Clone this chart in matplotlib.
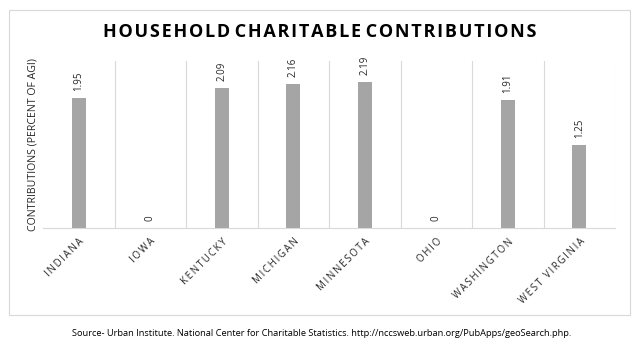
import matplotlib
matplotlib.use("Agg")
import matplotlib.pyplot as plt
from matplotlib.patches import Rectangle

states = ["INDIANA", "IOWA", "KENTUCKY", "MICHIGAN", "MINNESOTA", "OHIO", "WASHINGTON", "WEST VIRGINIA"]
values = [1.95, 0, 2.09, 2.16, 2.19, 0, 1.91, 1.25]
labels = ["1.95", "0", "2.09", "2.16", "2.19", "0", "1.91", "1.25"]

W, H = 639, 355
fig = plt.figure(figsize=(W / 100, H / 100), dpi=100)
font = "Open Sans"

# outer chart border
fig.patches.append(Rectangle((9 / W, 1 - 315 / H), (630 - 9) / W, (315 - 10) / H,
                             transform=fig.transFigure, fill=False,
                             edgecolor="#d9d9d9", linewidth=0.8))

ax = fig.add_axes([43 / W, 1 - 228 / H, (615 - 43) / W, (228 - 61) / H])
x = list(range(len(states)))
ax.bar(x, values, width=0.2, color="#a5a5a5", zorder=2)
ax.set_xlim(-0.5, len(states) - 0.5)
ax.set_ylim(0, 2.5)

for xi, v, lab in zip(x, values, labels):
    ax.annotate(lab, (xi, v), xytext=(0, 5), textcoords="offset points",
                rotation=90, ha="center", va="bottom", fontsize=7,
                family=font, color="#262626")

# category boundary gridlines
for b in range(1, len(states) + 1):
    ax.axvline(b - 0.5, color="#d9d9d9", linewidth=0.8, zorder=1)

for s in ["top", "right", "left"]:
    ax.spines[s].set_visible(False)
ax.spines["bottom"].set_color("#d9d9d9")
ax.set_yticks([])
ax.set_xticks(x)
spaced = ["\u2009".join(s) for s in states]
ax.set_xticklabels(spaced, rotation=45, ha="right", rotation_mode="anchor",
                   fontsize=7, family=font, color="#262626")
ax.tick_params(axis="x", length=0, pad=6)
ax.set_ylabel("CONTRIBUTIONS (PERCENT OF AGI)", fontsize=7.6, family=font,
              color="#262626", labelpad=3)

title = "HOUSEHOLD CHARITABLE CONTRIBUTIONS"
title_spaced = " ".join("\u200a".join(w) for w in title.split(" "))
fig.text(320 / W, 1 - 32 / H, title_spaced,
         ha="center", va="center", fontsize=13, fontweight="bold",
         family=font, color="#000000")

fig.text(322 / W, 1 - 333 / H,
         "Source- Urban Institute. National Center for Charitable Statistics. http://nccsweb.urban.org/PubApps/geoSearch.php.",
         ha="center", va="center", fontsize=6.7, family=font, color="#000000")

fig.savefig("out.png", dpi=100)
